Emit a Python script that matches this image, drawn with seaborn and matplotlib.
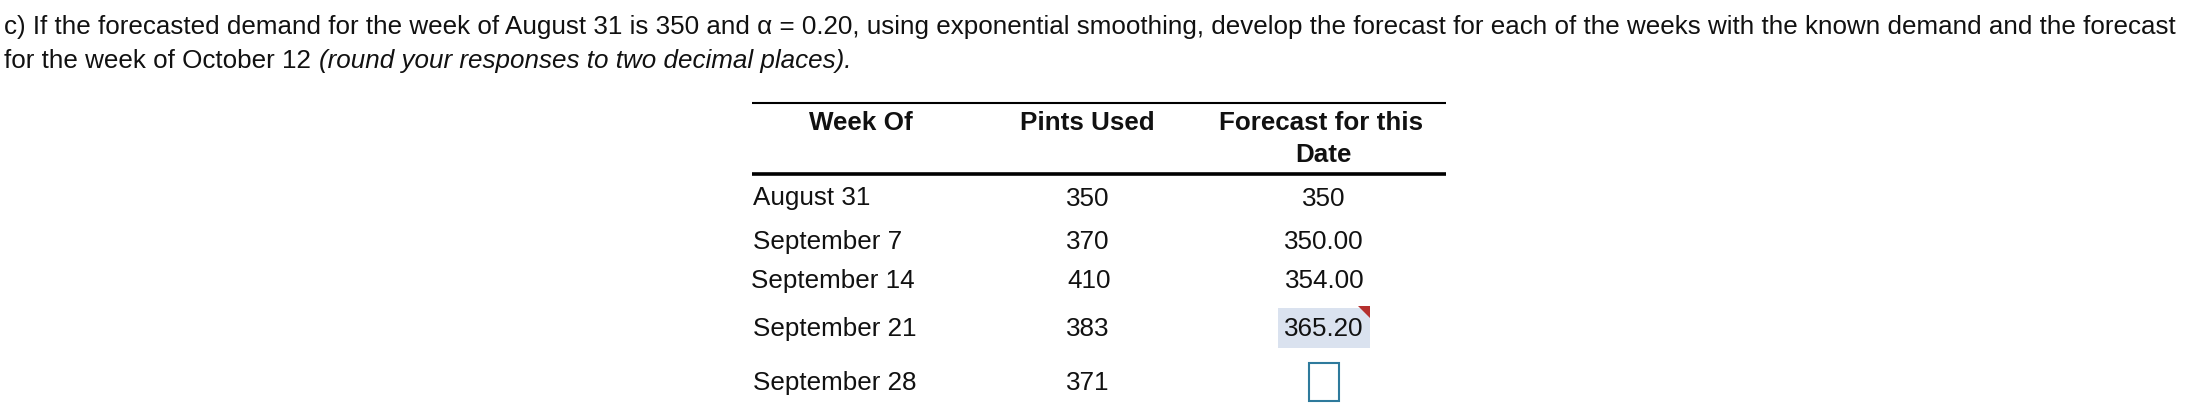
import matplotlib
matplotlib.use("Agg")
import matplotlib.pyplot as plt
from matplotlib.patches import Polygon, Rectangle
import seaborn as sns

# ---- content ----
line_one = ("c) If the forecasted demand for the week of August 31 is 350 and \u03b1 = 0.20, using exponential "
            "smoothing, develop the forecast for each of the weeks with the known demand and the forecast")
line_two_plain = "for the week of October 12 "
line_two_italic = "(round your responses to two decimal places)."
headers = ["Week Of", "Pints Used", "Forecast for this", "Date"]
weeks = ["August 31", "September 7", "September 14", "September 21", "September 28"]
pints_used = [350, 370, 410, 383, 371]
forecasts = ["350", "350.00", "354.00", "365.20", ""]

# ---- layout, in reference pixels ----
W, H = 2188, 408
FS = 18.72
row_base = [205.5, 249, 288, 336, 390]
week_x = [753, 753, 751, 753, 753]
pints_x = [1088, 1088, 1089, 1088, 1088]
fc_x = [1323.5, 1323.5, 1325, 1323.5, 1323.5]

sns.set_theme(style="white")
plt.rcParams["font.family"] = ["Liberation Sans", "DejaVu Sans"]

fig = plt.figure(figsize=(W / 100, H / 100), dpi=100, facecolor="white")
ax = fig.add_axes([0, 0, 1, 1])
ax.set_xlim(0, W)
ax.set_ylim(H, 0)
ax.axis("off")

kw = dict(fontsize=FS, color="#111111", va="baseline")
ax.text(4, 34, line_one, ha="left", **kw)
ax.text(4, 68, line_two_plain, ha="left", **kw)
ax.text(319, 68, line_two_italic, ha="left", style="italic", **kw)

# rules
ax.hlines(103, 752, 1446, color="black", lw=1.5)
ax.hlines(174, 752, 1446, color="black", lw=2.6)

# headers
bold = dict(fontsize=FS, color="#111111", va="baseline", ha="center", fontweight="bold")
ax.text(861, 129.5, headers[0], **bold)
ax.text(1087, 129.5, headers[1], **bold)
ax.text(1321, 129.5, headers[2], **bold)
ax.text(1323.5, 161.5, headers[3], **bold)

# answered cell highlight, marker, and empty input
ax.add_patch(Rectangle((1278, 308), 92, 40, facecolor="#DAE2EF", edgecolor="none", zorder=1))
ax.add_patch(Polygon([(1358, 306), (1370, 306), (1370, 318)], closed=True,
                     facecolor="#B5302E", edgecolor="none", zorder=2))
ax.add_patch(Rectangle((1309, 363), 30, 38, facecolor="white", edgecolor="#2E7A9C", lw=1.5, zorder=2))

# rows
for y, wx, px, fx, wk, p, f in zip(row_base, week_x, pints_x, fc_x, weeks, pints_used, forecasts):
    ax.text(wx, y, wk, ha="left", zorder=3, **kw)
    ax.text(px, y, str(p), ha="center", zorder=3, **kw)
    if f:
        ax.text(fx, y, f, ha="center", zorder=3, **kw)

fig.savefig("out.png", dpi=100, facecolor="white")
